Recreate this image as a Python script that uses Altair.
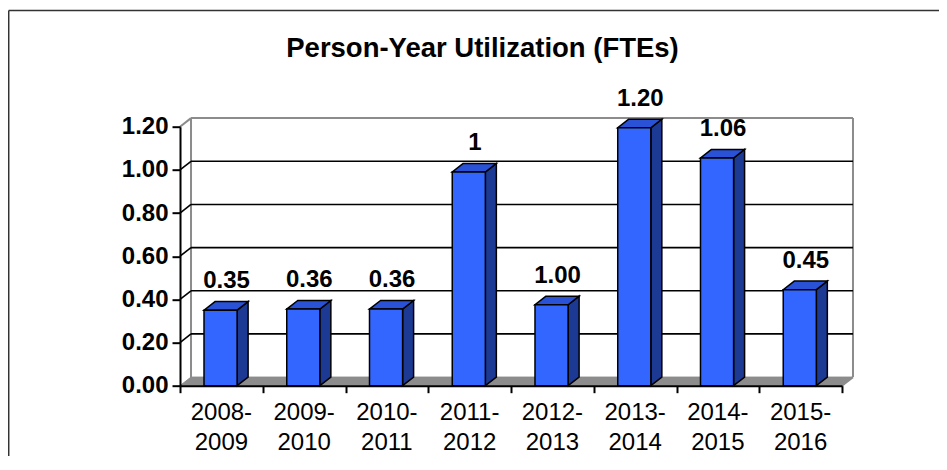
import altair as alt
import pandas as pd

# ---- data ----
categories = ["2008-\n2009", "2009-\n2010", "2010-\n2011", "2011-\n2012",
              "2012-\n2013", "2013-\n2014", "2014-\n2015", "2015-\n2016"]
values = [0.35, 0.355, 0.355, 0.99, 0.375, 1.195, 1.055, 0.445]
labels = ["0.35", "0.36", "0.36", "1", "1.00", "1.20", "1.06", "0.45"]
y_ticks = [0.0, 0.2, 0.4, 0.6, 0.8, 1.0, 1.2]
title_text = "Person-Year Utilization (FTEs)"

# ---- geometry (pixels) ----
W, H = 662, 259
N = len(categories)
YMAX = 1.2
DX = 11 / (W / N)          # depth offset in x units
DY = 8.6 / (H / YMAX)      # depth offset in y units
B0, B1 = 0.29, 0.69        # front face of bar inside its band

FRONT = "#3366FF"
SIDE = "#1C3A94"
TOP = "#2A52D6"
WALL = "#8C8C8C"
FONT = "Liberation Sans"

xs = alt.Scale(domain=[0, N], nice=False, zero=False)
ys = alt.Scale(domain=[0, YMAX], nice=False, zero=False)
xaxis = alt.Axis(values=list(range(N + 1)), labels=False, title="", grid=False,
                 tickSize=7, tickWidth=2, tickColor="black",
                 domainColor="black", domainWidth=2, zindex=1)
yaxis = alt.Axis(values=y_ticks, format=".2f", title="", grid=False,
                 labelFont=FONT, labelFontSize=24, labelFontWeight="bold",
                 labelColor="black", labelPadding=4,
                 tickSize=8, tickWidth=2, tickColor="black",
                 domainColor="black", domainWidth=2, zindex=1)
X = alt.X("x:Q", scale=xs, axis=xaxis)
Y = alt.Y("y:Q", scale=ys, axis=yaxis)

# ---- tables built from the arrays ----
bars = pd.DataFrame({"i": range(N), "v": values, "lab": labels, "cat": categories})

front = pd.DataFrame({"x": bars.i + B0, "x2": bars.i + B1, "y": 0.0, "y2": bars.v})

side_rows, top_rows = [], []
for i, v in zip(bars.i, bars.v):
    side_rows.append({"k": i, "x": i + B1, "y": 0.0, "y2": v})
    side_rows.append({"k": i, "x": i + B1 + DX, "y": DY, "y2": v + DY})
    top_rows.append({"k": i, "y": v, "x": i + B0, "x2": i + B1})
    top_rows.append({"k": i, "y": v + DY, "x": i + B0 + DX, "x2": i + B1 + DX})
side = pd.DataFrame(side_rows)
top = pd.DataFrame(top_rows)

floor = pd.DataFrame([{"y": 0.0, "x": 0.0, "x2": float(N)},
                      {"y": DY, "x": DX, "x2": N + DX}])

grid_rows = []
for t in y_ticks[1:-1]:
    grid_rows.append({"x": 0.0, "y": t, "x2": DX, "y2": t + DY})
    grid_rows.append({"x": DX, "y": t + DY, "x2": N + DX, "y2": t + DY})
grid = pd.DataFrame(grid_rows)

wall = pd.DataFrame([
    {"x": 0.0, "y": YMAX, "x2": DX, "y2": YMAX + DY},
    {"x": DX, "y": YMAX + DY, "x2": N + DX, "y2": YMAX + DY},
    {"x": DX, "y": DY, "x2": DX, "y2": YMAX + DY},
    {"x": N + DX, "y": DY, "x2": N + DX, "y2": YMAX + DY},
    {"x": N, "y": 0.0, "x2": N + DX, "y2": DY},
])

lab_df = pd.DataFrame({"x": bars.i + (B0 + B1) / 2, "y": bars.v, "lab": bars.lab})
cat_df = pd.DataFrame({"x": bars.i + 0.5, "y": 0.0, "cat": bars.cat})

# ---- layers ----
floor_l = alt.Chart(floor).mark_area(orient="horizontal", color=WALL, stroke=WALL,
                                     strokeWidth=1).encode(y=Y, x=X, x2="x2:Q")
wall_l = alt.Chart(wall).mark_rule(color=WALL, strokeWidth=2).encode(
    x=X, y=Y, x2="x2:Q", y2="y2:Q")
grid_l = alt.Chart(grid).mark_rule(color="black", strokeWidth=1.6).encode(
    x=X, y=Y, x2="x2:Q", y2="y2:Q")
side_l = alt.Chart(side).mark_area(color=SIDE, stroke="black", strokeWidth=1.5,
                                   strokeJoin="miter").encode(
    x=X, y=Y, y2="y2:Q", detail="k:N")
top_l = alt.Chart(top).mark_area(orient="horizontal", color=TOP, stroke="black",
                                 strokeWidth=1.5, strokeJoin="miter").encode(
    y=Y, x=X, x2="x2:Q", detail="k:N")
front_l = alt.Chart(front).mark_rect(color=FRONT, stroke="black", strokeWidth=1.5).encode(
    x=X, x2="x2:Q", y=Y, y2="y2:Q")
lab_l = alt.Chart(lab_df).mark_text(font=FONT, fontSize=24, fontWeight="bold",
                                    color="black", dx=6, dy=-22,
                                    baseline="alphabetic").encode(x=X, y=Y, text="lab:N")
cat_l = alt.Chart(cat_df).mark_text(font=FONT, fontSize=24, color="black",
                                    lineBreak="\n", lineHeight=30, dy=34,
                                    baseline="alphabetic").encode(x=X, y=Y, text="cat:N")
title_l = alt.Chart(pd.DataFrame({"t": [title_text]})).mark_text(
    font=FONT, fontSize=27.5, fontWeight="bold", color="black",
    baseline="alphabetic", align="center").encode(
    x=alt.value(302.5), y=alt.value(-70), text="t:N")
border_top = alt.Chart(pd.DataFrame({"a": [0]})).mark_rule(color="#333333", strokeWidth=1.5).encode(
    x=alt.value(-171.3), x2=alt.value(800), y=alt.value(-116.3))
border_left = alt.Chart(pd.DataFrame({"a": [0]})).mark_rule(color="#333333", strokeWidth=1.5).encode(
    x=alt.value(-171.3), y=alt.value(-116.3), y2=alt.value(400))

chart = alt.layer(
    border_top, border_left, floor_l, wall_l, grid_l,
    side_l, top_l, front_l, lab_l, cat_l, title_l
).properties(
    width=W, height=H,
    autosize=alt.AutoSizeParams(type="none"),
    padding={"left": 172, "top": 118.7, "right": 97, "bottom": 70},
    background="white",
).configure_view(strokeWidth=0)

chart.save("out.html", embed_options={"renderer": "svg", "actions": False})
